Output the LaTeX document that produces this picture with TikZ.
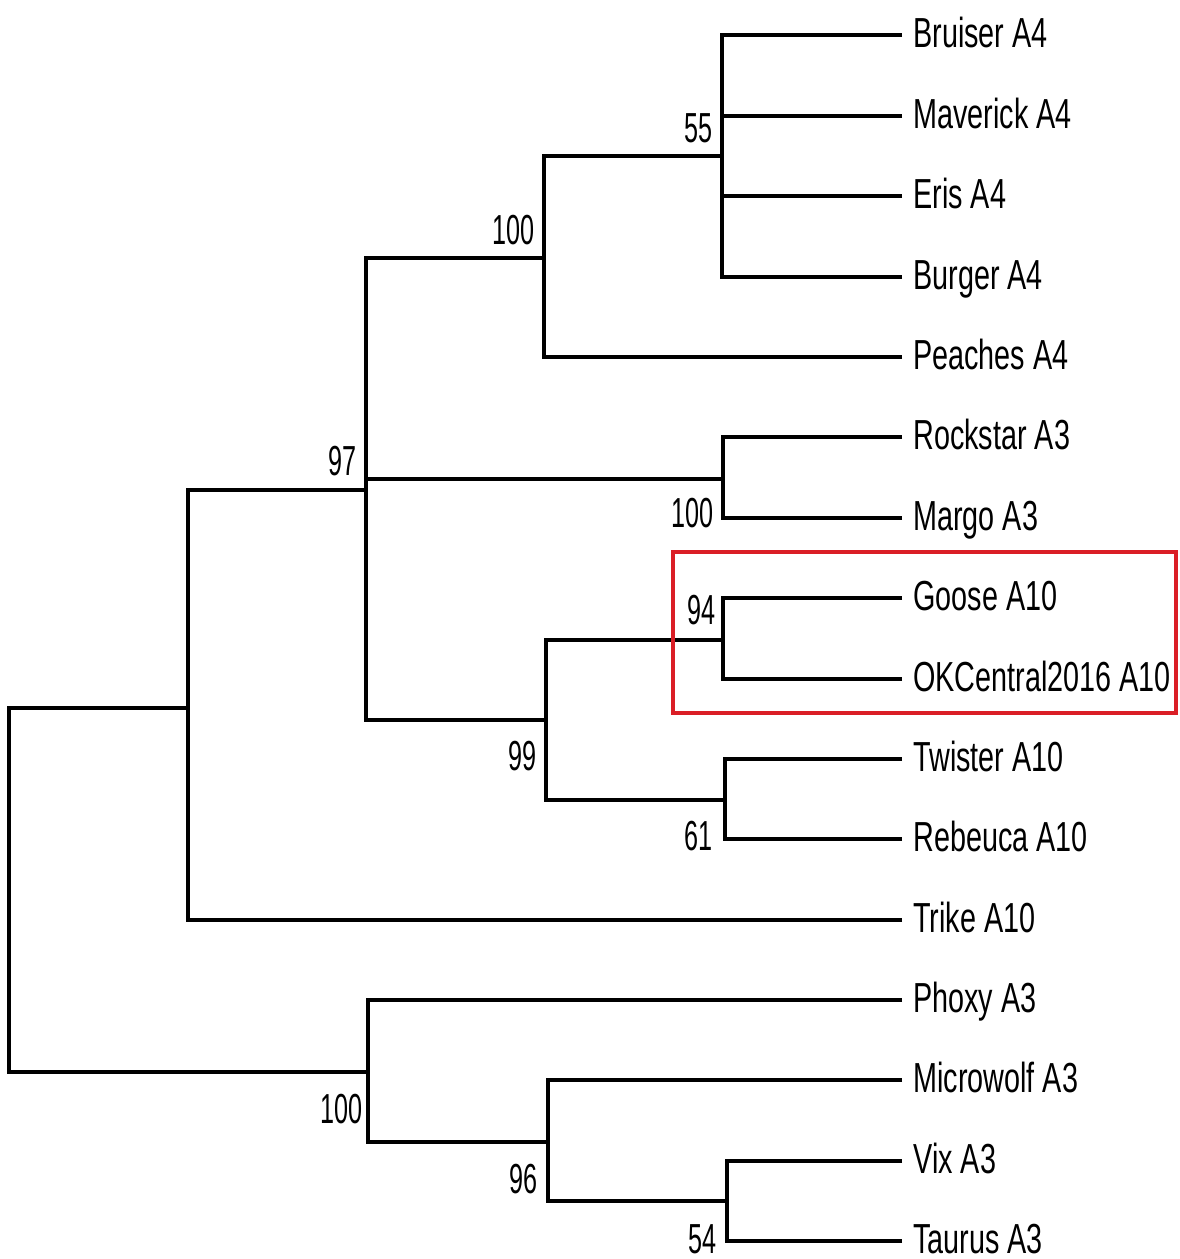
\documentclass[tikz,border=0pt]{standalone}
\usepackage{fontspec}
\setmainfont{Liberation Sans}[FakeStretch=0.685]
\newfontfamily\numfont{Liberation Sans}[FakeStretch=0.6]
\definecolor{boxred}{RGB}{218,30,38}
\tikzset{
  branch/.style={draw=black, line width=1.55pt, line join=miter},
  leaflabel/.style={anchor=base west, inner sep=0pt, font=\fontsize{21}{25}\selectfont},
  boot/.style={anchor=base east, inner sep=0pt, font=\numfont\fontsize{21}{25}\selectfont},
  hlbox/.style={draw=boxred, line width=2.2pt}
}
\begin{document}
\begin{tikzpicture}[x=0.5pt,y=-0.5pt]
\useasboundingbox (0,0) rectangle (1179,1259);
% leaf tips
\foreach \n/\y in {1/35,2/116,3/196,4/277,5/357,6/437,7/518,8/598,9/679,10/759,11/839,12/920,13/1000,14/1080,15/1161,16/1241}
  \coordinate (L\n) at (902,\y);
% internal nodes
\coordinate (A) at (722,156);
\coordinate (B) at (544,258);
\coordinate (C) at (723,479);
\coordinate (D) at (723,640);
\coordinate (E) at (725,800);
\coordinate (F) at (546,720);
\coordinate (G) at (366,490);
\coordinate (H) at (188,708);
\coordinate (I) at (727,1201);
\coordinate (J) at (548,1142);
\coordinate (K) at (368,1072);
\coordinate (R) at (9,890);
% branches
\foreach \c/\p in {L1/A,L2/A,L3/A,L4/A,A/B,L5/B,L6/C,L7/C,L8/D,L9/D,L10/E,L11/E,D/F,E/F,B/G,C/G,F/G,G/H,L12/H,L15/I,L16/I,L14/J,I/J,L13/K,J/K,H/R,K/R}
  \draw[branch] (\c) -| (\p);
% leaf labels
\foreach \n/\t in {1/Bruiser A4,2/Maverick A4,3/Eris A4,4/Burger A4,5/Peaches A4,6/Rockstar A3,7/Margo A3,8/Goose A10,9/OKCentral2016 A10,10/Twister A10,11/Rebeuca A10,12/Trike A10,13/Phoxy A3,14/Microwolf A3,15/Vix A3,16/Taurus A3}
  \node[leaflabel] (T\n) at ([xshift=5.5pt,yshift=-6pt]L\n) {\t};
% bootstrap values (above-left)
\node[boot] (bA) at ([xshift=-4.5pt,yshift=7pt]A) {55};
\node[boot] (bB) at ([xshift=-4.5pt,yshift=7pt]B) {100};
\node[boot] (bG) at ([xshift=-4.5pt,yshift=7.5pt]G) {97};
\node[boot] (bD) at ([xshift=-3.5pt,yshift=8pt]D) {94};
% bootstrap values (below-left)
\node[boot] (bC) at ([xshift=-4.5pt,yshift=-24pt]C) {100};
\node[boot] (bF) at ([xshift=-4.5pt,yshift=-25pt]F) {99};
\node[boot] (bE) at ([xshift=-6pt,yshift=-25pt]E) {61};
\node[boot] (bK) at ([xshift=-2.5pt,yshift=-25.5pt]K) {100};
\node[boot] (bJ) at ([xshift=-5pt,yshift=-25.5pt]J) {96};
\node[boot] (bI) at ([xshift=-5pt,yshift=-26pt]I) {54};
% highlight box
\draw[hlbox] (673,552) rectangle (1176,713);
\end{tikzpicture}
\end{document}
